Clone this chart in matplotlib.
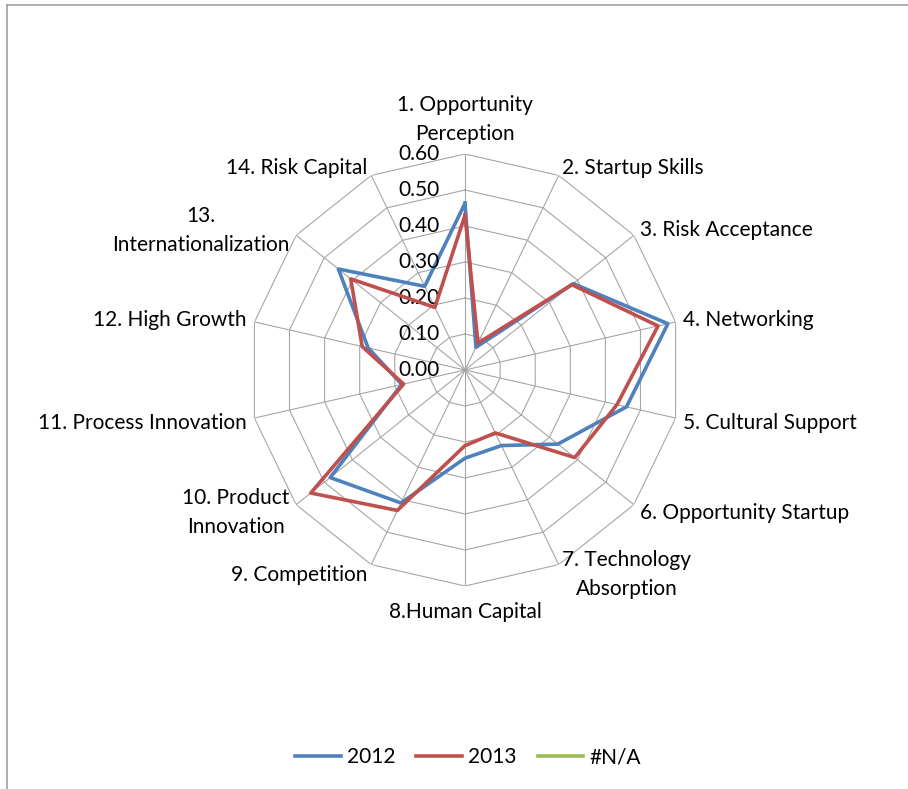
import numpy as np
import matplotlib
matplotlib.use("Agg")
import matplotlib.pyplot as plt

plt.rcParams['font.family'] = ['Lato', 'DejaVu Sans']

# donnees
categories = ["1. Opportunity\nPerception", "2. Startup Skills", "3. Risk Acceptance",
              "4. Networking", "5. Cultural Support", "6. Opportunity Startup",
              "7. Technology\nAbsorption", "8.Human Capital", "9. Competition",
              "10. Product\nInnovation", "11. Process Innovation", "12. High Growth",
              "13.\nInternationalization", "14. Risk Capital"]
y2012 = [0.463, 0.07, 0.385, 0.578, 0.46, 0.33, 0.233, 0.245, 0.41, 0.479, 0.18, 0.276, 0.45, 0.258]
y2013 = [0.43, 0.083, 0.38, 0.55, 0.433, 0.39, 0.194, 0.21, 0.433, 0.548, 0.175, 0.293, 0.406, 0.193]
y_na = []
series_names = ["2012", "2013", "#N/A"]
ring_ticks = [0.0, 0.1, 0.2, 0.3, 0.4, 0.5, 0.6]

BLUE, RED, GREEN = "#4F81BD", "#C0504D", "#9BBB59"
GRID = "#a6a6a6"
FS = 15

W, H = 908, 789
fig = plt.figure(figsize=(W / 100, H / 100), dpi=100)

# cadre gris (haut et gauche seulement, le reste est coupe)
fig.add_artist(plt.Line2D([7 / W, 7 / W], [0, 1 - 5 / H], color="#a0a0a0", lw=1.2))
fig.add_artist(plt.Line2D([7 / W, 1], [1 - 5 / H, 1 - 5 / H], color="#a0a0a0", lw=1.2))

cx, cy, R = 465, 370, 216
ax = fig.add_axes([(cx - R) / W, (H - cy - R) / H, 2 * R / W, 2 * R / H], projection="polar")
ax.set_theta_offset(np.pi / 2)
ax.set_theta_direction(-1)
ax.set_ylim(0, ring_ticks[-1])
ax.grid(False)
ax.set_xticks([])
ax.set_yticks([])
ax.spines["polar"].set_visible(False)
ax.patch.set_alpha(0)

n = len(categories)
angles = np.linspace(0, 2 * np.pi, n, endpoint=False)
closed = np.append(angles, angles[0])

# grille en polygones facon Excel
for r in ring_ticks[1:]:
    ax.plot(closed, [r] * (n + 1), color=GRID, lw=0.8, zorder=1)
for a in angles:
    ax.plot([a, a], [0, ring_ticks[-1]], color=GRID, lw=0.8, zorder=1)

ax.plot(closed, y2012 + y2012[:1], color=BLUE, lw=2.6, label=series_names[0], zorder=3)
ax.plot(closed, y2013 + y2013[:1], color=RED, lw=2.6, label=series_names[1], zorder=4)
ax.plot(y_na, y_na, color=GREEN, lw=2.6, label=series_names[2])

# etiquettes de l'axe radial
for r in ring_ticks:
    ax.annotate(f"{r:.2f}", xy=(0, r), xytext=(-25, 0), textcoords="offset pixels",
                ha="right", va="center", fontsize=FS, annotation_clip=False)

# etiquettes des categories
for a, lab in zip(angles, categories):
    s, c = np.sin(a), np.cos(a)
    if abs(s) < 0.05:
        ha = "center"
        va = "bottom" if c > 0 else "top"
        off = (0, 10) if c > 0 else (0, -16)
    else:
        ha = "left" if s > 0 else "right"
        va = "center"
        off = (8 * s, 8 * c - 3 * (c < 0))
    ax.annotate(lab, xy=(a, ring_ticks[-1]), xytext=off, textcoords="offset pixels",
                ha=ha, va=va, multialignment="center", fontsize=FS,
                linespacing=1.55, annotation_clip=False)

fig.legend(loc="center", bbox_to_anchor=(468 / W, 1 - 757 / H), ncol=3, frameon=False,
           fontsize=FS, handlelength=2.2, handletextpad=0.3, columnspacing=1.0)

fig.savefig("out.png", dpi=100)
